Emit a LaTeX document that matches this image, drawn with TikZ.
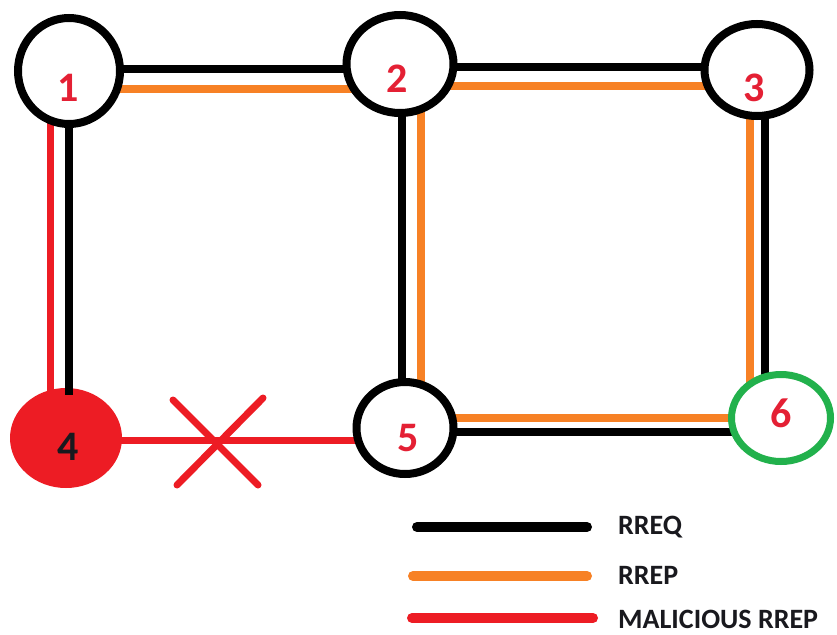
\documentclass[tikz,border=0pt]{standalone}
\usepackage{fontspec}
\setmainfont{Carlito}
\usetikzlibrary{shapes.geometric,backgrounds}
\definecolor{rred}{RGB}{237,28,36}
\definecolor{rorange}{RGB}{247,129,37}
\definecolor{rgreen}{RGB}{34,177,76}
\definecolor{numred}{RGB}{228,32,52}
\definecolor{legtxt}{RGB}{25,25,30}
\begin{document}
\begin{tikzpicture}[x=1pt,y=-1pt,
  ring/.style={ellipse, draw=black, line width=8pt, fill=white, inner sep=0pt},
  num/.style={font=\fontsize{42}{42}\selectfont\bfseries, text=numred, inner sep=0pt},
  rreq/.style={draw=black, line width=8.5pt},
  rrep/.style={draw=rorange, line width=7.5pt},
  mal/.style={draw=rred, line width=7pt},
  legline/.style={line width=10pt, line cap=round},
  legtext/.style={font=\fontsize{28}{28}\selectfont\bfseries, anchor=west, inner sep=0pt, text=legtxt}]
\useasboundingbox (0,0) rectangle (837,634);

% nodes
\node[ring, minimum width=102pt, minimum height=106pt] (n1) at (69,71) {};
\node[ring, minimum width=107pt, minimum height=98pt] (n2) at (400,64) {};
\node[ring, minimum width=105pt, minimum height=92pt] (n3) at (757,70) {};
\node[ellipse, draw=none, fill=rred, inner sep=0pt, minimum width=112pt, minimum height=100pt] (n4) at (66,438) {};
\node[ring, minimum width=97pt, minimum height=92pt] (n5) at (405,428) {};
\node[ring, draw=rgreen, line width=7pt, minimum width=99pt, minimum height=87pt] (n6) at (781,418) {};

% labels
\node[num] (l1) at (68,88) {1};
\node[num] (l2) at (397,79) {2};
\node[num] (l3) at (754,88) {3};
\node[num, text=legtxt] (l4) at (68,447) {4};
\node[num] (l5) at (408,438) {5};
\node[num] (l6) at (781,413) {6};

\begin{scope}[on background layer]
  \fill[white] (0,0) rectangle (837,634);
  % 1-2
  \draw[rreq] ([yshift=2pt]n1.center) -- ([yshift=-5pt]n2.center);
  \draw[rrep] ([yshift=-18pt]n1.center) -- ([yshift=-25pt]n2.center);
  % 2-3
  \draw[rreq] ([yshift=-3pt]n2.center) -- ([yshift=3pt]n3.center);
  \draw[rrep] ([yshift=-22pt]n2.center) -- ([yshift=-16pt]n3.center);
  % 1-4
  \draw[mal] ([xshift=-19pt]n1.center) -- ([xshift=-16pt]n4.center);
  % 2-5
  \draw[rreq] ([xshift=2pt]n2.center) -- ([xshift=-3pt]n5.center);
  \draw[rrep] ([xshift=21pt]n2.center) -- ([xshift=16pt]n5.center);
  % 3-6
  \draw[rrep] ([xshift=-7pt]n3.center) -- ([xshift=-31pt]n6.center);
  \draw[rreq] ([xshift=8pt]n3.center) -- ([xshift=-16pt]n6.center);
  % 5-6
  \draw[rrep] ([yshift=10pt]n5.center) -- (n6.center);
  \draw[rreq] ([yshift=-4pt]n5.center) -- ([yshift=-14pt]n6.center);
  % 4-5
  \draw[mal] ([yshift=-2pt]n4.center) -- ([yshift=-12pt]n5.center);
\end{scope}

% black 1-4 reaching into node 4
\draw[rreq] (n1.south) -- ([xshift=3pt,yshift=-7pt]n4.north);

% cross mark
\draw[mal, line cap=round] (173,400) -- (258,485);
\draw[mal, line cap=round] (263,398) -- (177,485);

% legend
\coordinate (a1) at (417,527); \coordinate (b1) at (587,527);
\coordinate (a2) at (413,576); \coordinate (b2) at (587,576);
\coordinate (a3) at (412,618); \coordinate (b3) at (593,618);
\draw[legline, black] (a1) -- (b1);
\draw[legline, rorange] (a2) -- (b2);
\draw[legline, rred] (a3) -- (b3);
\node[legtext] (t1) at (618,527) {RREQ};
\node[legtext] (t2) at (618,575) {RREP};
\node[legtext] (t3) at (618,619) {MALICIOUS RREP};
\end{tikzpicture}
\end{document}
